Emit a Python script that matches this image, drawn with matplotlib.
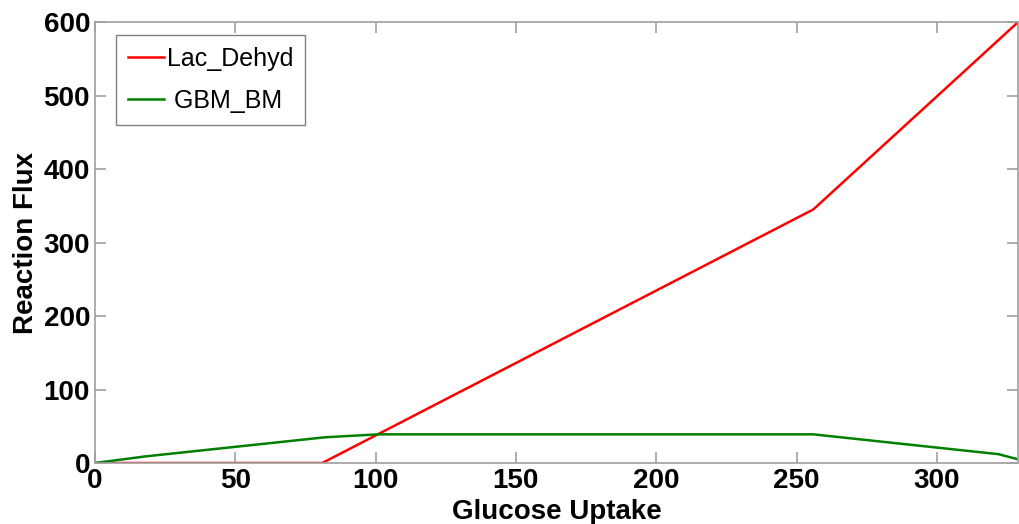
import matplotlib
matplotlib.use("Agg")
import matplotlib.pyplot as plt

# data
lac_x = [0, 81, 256, 329]
lac_y = [0, 0, 345, 600]

gbm_x = [0, 18, 82, 101, 256, 322, 329]
gbm_y = [0, 9, 35, 39, 39, 12, 5]

xticks = [0, 50, 100, 150, 200, 250, 300]
yticks = [0, 100, 200, 300, 400, 500, 600]

plt.rcParams['font.family'] = ['Liberation Sans', 'DejaVu Sans']

fig = plt.figure(figsize=(10.19, 5.24), dpi=100)
ax = fig.add_axes([0.0932, 0.1164, 0.906, 0.8416])

ax.plot(lac_x, lac_y, color='#ff0000', lw=1.8, label='Lac_Dehyd')
ax.plot(gbm_x, gbm_y, color='#008000', lw=1.8, label=' GBM_BM')

ax.set_xlim(0, 329)
ax.set_ylim(0, 600)
ax.set_xticks(xticks)
ax.set_yticks(yticks)

for s in ax.spines.values():
    s.set_color('#a0a0a0')
    s.set_linewidth(1.2)
ax.tick_params(direction='in', length=8, width=1.2, color='#a0a0a0',
               top=True, right=True, labelsize=20, pad=3.5)
for lab in ax.get_xticklabels() + ax.get_yticklabels():
    lab.set_fontweight('bold')

ax.set_xlabel('Glucose Uptake', fontsize=20, fontweight='bold', labelpad=3.5)
ax.set_ylabel('Reaction Flux', fontsize=20, fontweight='bold', labelpad=3)

leg = ax.legend(loc='upper left', bbox_to_anchor=(0.0228, 0.9705), fontsize=18,
                handlelength=1.45, handletextpad=0.1, fancybox=False,
                borderpad=0.48, labelspacing=0.7, borderaxespad=0,
                framealpha=1)
leg.get_frame().set_edgecolor('#808080')
leg.get_frame().set_linewidth(1.0)

fig.savefig('out.png', dpi=100)
